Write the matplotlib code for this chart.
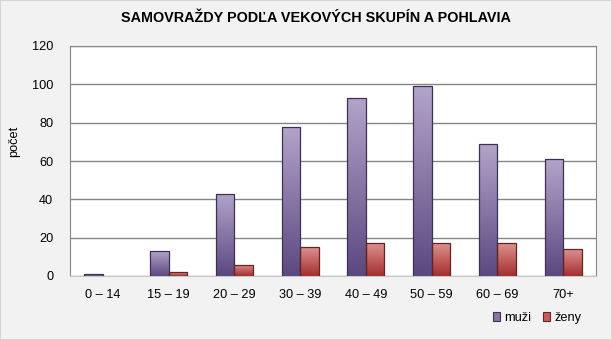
import matplotlib
matplotlib.use("Agg")
import matplotlib.pyplot as plt
from matplotlib.colors import LinearSegmentedColormap
from matplotlib.patches import Patch, Rectangle
import numpy as np

plt.rcParams['font.family'] = ['Liberation Sans', 'DejaVu Sans']

groups = ['0 – 14', '15 – 19', '20 – 29', '30 – 39', '40 – 49', '50 – 59', '60 – 69', '70+']
muzi = [1, 13, 43, 78, 93, 99, 69, 61]
zeny = [0, 2, 6, 15, 17, 17, 17, 14]

title = 'SAMOVRAŽDY PODĽA VEKOVÝCH SKUPÍN A POHLAVIA'

# (top colour, bottom colour, edge colour) per series
styles = {
    'muži': ('#b3a4ca', '#5c4880', '#3f3151'),
    'ženy': ('#dc9290', '#a52e2e', '#632523'),
}


def gradient_bars(ax, x, heights, width, top, bottom, edge):
    cmap = LinearSegmentedColormap.from_list('g', [bottom, top])
    grad = np.linspace(0, 1, 256).reshape(-1, 1)
    bars = ax.bar(x, heights, width, align='edge', facecolor='none',
                  edgecolor=edge, linewidth=0.9, zorder=3)
    for b in bars:
        if b.get_height() <= 0:
            b.set_edgecolor('none')
            continue
        x0, y0 = b.get_x(), b.get_y()
        im = ax.imshow(grad, cmap=cmap, origin='lower', aspect='auto',
                       extent=[x0, x0 + b.get_width(), y0, y0 + b.get_height()],
                       zorder=2)
        im.set_clip_path(b)
    return bars


fig = plt.figure(figsize=(6.12, 3.40), dpi=100, facecolor='#f2f2f2')
fig.patches.append(Rectangle((0, 0), 1, 1, transform=fig.transFigure,
                             fill=False, edgecolor='#d0d0d0', linewidth=1.2))
ax = fig.add_axes([70 / 612, 1 - 276 / 340, 526 / 612, 230 / 340])
ax.set_facecolor('white')

x = np.arange(len(groups))
w = 0.28
gradient_bars(ax, x - w, muzi, w, *styles['muži'])
gradient_bars(ax, x, zeny, w, *styles['ženy'])

ax.set_xlim(-0.5, len(groups) - 0.5)
ax.set_ylim(0, 120)
ax.set_yticks(range(0, 121, 20))
ax.set_xticks(x)
ax.set_xticklabels(groups)
ax.tick_params(length=0, labelsize=9.2, pad=9)
ax.tick_params(axis='y', pad=12)
ax.grid(axis='y', color='#868686', linewidth=1, zorder=1)
ax.set_axisbelow(True)
for side in ['top', 'right']:
    ax.spines[side].set_color('#868686')
ax.spines['left'].set_color('#868686')
ax.spines['bottom'].set_color('#c8c8c8')

ax.set_ylabel('počet', fontsize=9.2)
ax.yaxis.set_label_coords(-0.094, 0.585)
fig.text(316 / 612, 1 - 18 / 340, title, ha='center', va='center',
         fontsize=10.4, fontweight='bold')

handles = [Patch(facecolor='#8874a8', edgecolor='#3f3151', linewidth=0.8),
           Patch(facecolor='#c45e5c', edgecolor='#632523', linewidth=0.8)]
fig.legend(handles, ['muži', 'ženy'], loc='center', ncol=2,
           bbox_to_anchor=(537 / 612, 1 - 318 / 340), frameon=False,
           fontsize=9.2, handlelength=0.6, handleheight=0.6,
           handletextpad=0.3, columnspacing=0.9)

fig.savefig('out.png', dpi=100, facecolor=fig.get_facecolor())
